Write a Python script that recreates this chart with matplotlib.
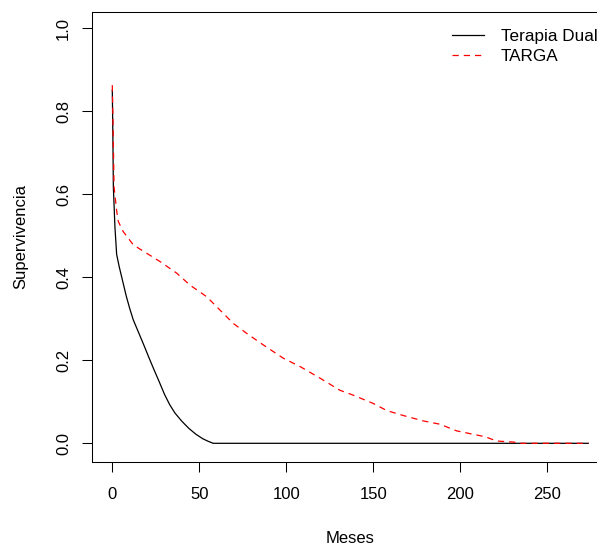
import matplotlib
matplotlib.use("Agg")
import matplotlib.pyplot as plt

plt.rcParams["font.family"] = ["Liberation Sans", "DejaVu Sans"]

# Kaplan-Meier style curves (months, survival)
dual_t = [0, 0.3, 0.6, 1.5, 2.5, 4, 6, 8, 10, 12, 15, 18, 21, 24, 27,
          30, 33, 36, 40, 44, 48, 52, 55, 58, 273.6]
dual_s = [0.851, 0.75, 0.618, 0.522, 0.455, 0.425, 0.39, 0.355, 0.325,
          0.298, 0.268, 0.238, 0.207, 0.177, 0.148, 0.118, 0.093, 0.073,
          0.053, 0.036, 0.022, 0.011, 0.005, 0, 0]

targa_t = [0, 0.5, 1, 2.5, 3.5, 6.3, 12.1, 19.7, 27.4, 37, 44.7, 54.3,
           61.9, 69.5, 77.2, 86.8, 98.3, 107.9, 119.4, 130.7, 138.5, 150,
           157.7, 167.2, 178.7, 188.3, 197.9, 209.4, 214.2, 220.9, 230.5,
           235, 273.6]
targa_s = [0.863, 0.75, 0.618, 0.56, 0.534, 0.51, 0.478, 0.458, 0.438,
           0.41, 0.381, 0.353, 0.321, 0.289, 0.265, 0.237, 0.205, 0.185,
           0.157, 0.128, 0.116, 0.096, 0.079, 0.067, 0.054, 0.046, 0.030,
           0.020, 0.016, 0.0055, 0.003, 0, 0]

labels = ["Terapia Dual", "TARGA"]
xticks = [0, 50, 100, 150, 200, 250]
yticks = [0.0, 0.2, 0.4, 0.6, 0.8, 1.0]

fig = plt.figure(figsize=(5.97, 5.48), dpi=100)
ax = fig.add_axes([0.1546, 0.1575, 0.8454, 0.8212])

ax.plot(dual_t, dual_s, color="black", lw=0.9, label=labels[0])
ax.plot(targa_t, targa_s, color="red", lw=0.9, linestyle=(0, (5, 4)),
        label=labels[1])

ax.set_xlim(-11.5, 278.6)
ax.set_ylim(-0.0443, 1.040)

ax.set_xticks(xticks)
ax.set_yticks(yticks)
ax.set_yticklabels([f"{v:.1f}" for v in yticks], rotation=90, va="center")
ax.tick_params(axis="both", length=7.2, width=0.75, labelsize=12)
ax.tick_params(axis="x", pad=11)
ax.tick_params(axis="y", pad=8)

for side in ["left", "top", "bottom"]:
    ax.spines[side].set_linewidth(0.75)
ax.spines["right"].set_visible(False)

ax.set_xlabel("Meses", fontsize=12)
ax.set_ylabel("Supervivencia", fontsize=12)
ax.xaxis.set_label_coords(0.511, -0.153)
ax.yaxis.set_label_coords(-0.127, 0.5)

ax.legend(loc="upper left", bbox_to_anchor=(0.7127, 0.961), frameon=False,
          fontsize=12.3, handlelength=1.85, handletextpad=1.0,
          labelspacing=0.28, borderpad=0, borderaxespad=0)

fig.savefig("out.png", dpi=100)
